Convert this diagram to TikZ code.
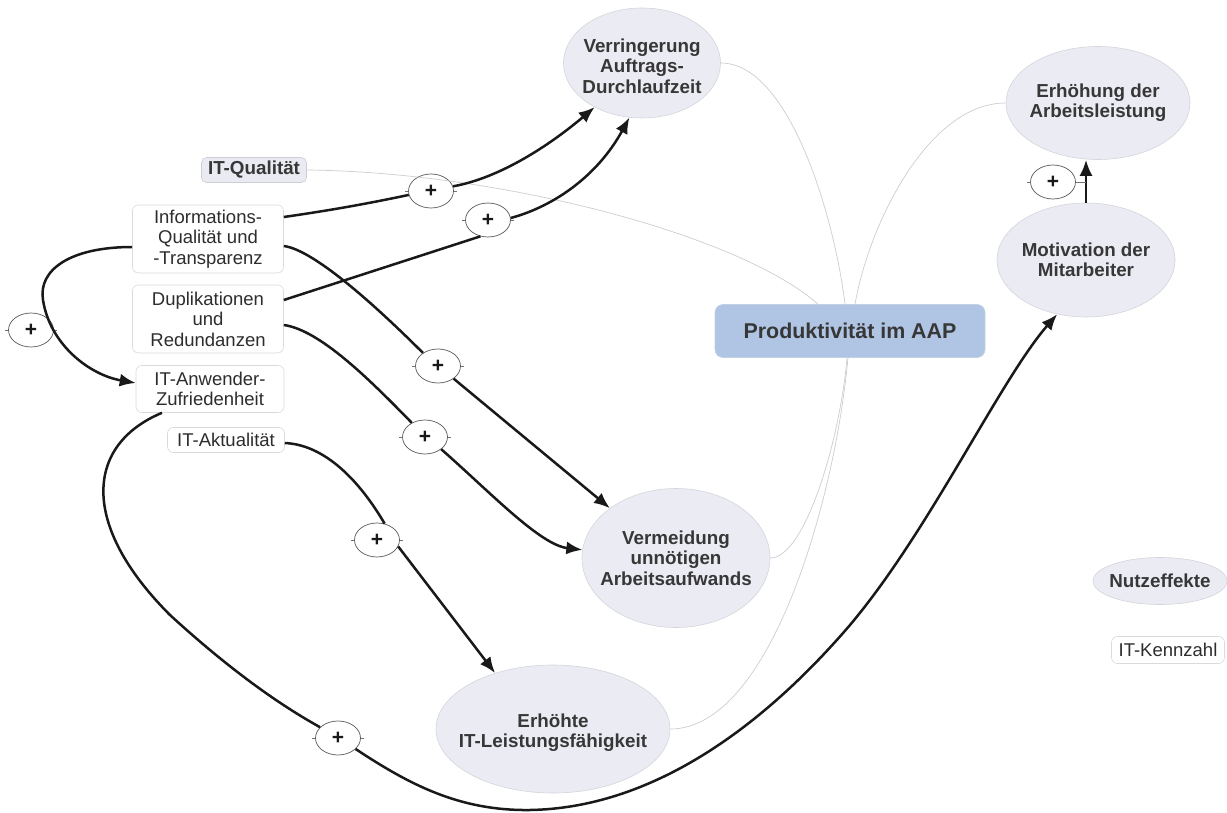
\documentclass[tikz,border=0pt]{standalone}
\usepackage{fontspec}
\setmainfont{Liberation Sans}
\usetikzlibrary{shapes.geometric,arrows.meta}

\definecolor{ellfill}{RGB}{235,236,243}
\definecolor{ellline}{RGB}{212,212,220}
\definecolor{boxline}{RGB}{218,218,222}
\definecolor{txt}{RGB}{45,45,45}
\definecolor{btxt}{RGB}{55,55,55}
\definecolor{prodfill}{RGB}{176,197,227}
\definecolor{prodline}{RGB}{192,208,230}
\definecolor{qualfill}{RGB}{233,234,242}
\definecolor{qualline}{RGB}{205,205,214}
\definecolor{thinline}{RGB}{205,205,205}
\definecolor{ink}{RGB}{25,25,25}

\begin{document}
\begin{tikzpicture}[x=1pt,y=-1pt,
  every node/.style={text=txt, font=\fontsize{18.5}{20.5}\selectfont},
  goal/.style={ellipse, draw=ellline, fill=ellfill, line width=0.6pt, inner sep=0pt},
  gtext/.style={align=center, text=btxt, font=\bfseries\fontsize{18.8}{20.3}\selectfont},
  kbox/.style={rectangle, rounded corners=6pt, draw=boxline, fill=white, line width=0.6pt,
    inner sep=0pt, align=center},
  plus/.style={ellipse, draw=black!65, fill=white, line width=0.7pt, inner sep=0pt,
    minimum width=45pt, minimum height=34pt, text=ink, font=\bfseries\fontsize{21}{22}\selectfont},
  tick/.style={draw=black!55, line width=0.6pt},
  seg/.style={draw=ink, line width=2.5pt},
  conn/.style={draw=ink, line width=2.5pt, -{Latex[length=16pt,width=13pt]}},
  soft/.style={draw=thinline, line width=0.7pt},
]
\useasboundingbox (0,0) rectangle (1227,813);

% central target
\node[rectangle, rounded corners=8pt, draw=prodline, fill=prodfill, line width=0.6pt,
  minimum width=270pt, minimum height=53pt, inner sep=0pt, text=btxt,
  font=\bfseries\fontsize{21.4}{24}\selectfont] (prod) at (850,331) {Produktivität im AAP};

% benefit ellipses
\node[goal, minimum width=157pt, minimum height=110pt,
  label={[gtext, yshift=-3pt]center:{Verringerung\\Auftrags-\\Durchlaufzeit}}] (verr) at (642,63) {};
\node[goal, minimum width=184pt, minimum height=113pt,
  label={[gtext]center:{Erhöhung der\\Arbeitsleistung}}] (erh) at (1098,103) {};
\node[goal, minimum width=178pt, minimum height=114pt,
  label={[gtext]center:{Motivation der\\Mitarbeiter}}] (mot) at (1086,260) {};
\node[goal, minimum width=188pt, minimum height=139pt,
  label={[gtext]center:{Vermeidung\\unnötigen\\Arbeitsaufwands}}] (verm) at (676,558) {};
\node[goal, minimum width=234pt, minimum height=128pt,
  label={[gtext, yshift=-4pt]center:{Erhöhte\\IT-Leistungsfähigkeit}}] (erhte) at (553,729) {};
\node[goal, minimum width=134pt, minimum height=47pt,
  label={[gtext]center:{Nutzeffekte}}] (nutz) at (1160,581) {};

% IT key figures
\node[rectangle, rounded corners=5pt, draw=qualline, fill=qualfill, line width=0.6pt,
  minimum width=105pt, minimum height=25pt, inner sep=0pt, text=btxt,
  font=\bfseries\fontsize{18.8}{20.3}\selectfont] (qual) at (254,170) {IT-Qualität};
\node[kbox, minimum width=151pt, minimum height=68pt] (info) at (208,239)
  {Informations-\\Qualität und\\-Transparenz};
\node[kbox, minimum width=151pt, minimum height=68pt] (dup) at (208,319)
  {Duplikationen\\und\\Redundanzen};
\node[kbox, minimum width=148pt, minimum height=47pt] (ita) at (210,389)
  {IT-Anwender-\\Zufriedenheit};
\node[kbox, minimum width=117pt, minimum height=25pt] (itakt) at (226,440) {IT-Aktualität};
\node[kbox, minimum width=113pt, minimum height=27pt] (kenn) at (1168,650) {IT-Kennzahl};

% positive influence markers
\node[plus] (p1) at (431,191) {+};
\node[plus] (p2) at (488,220) {+};
\node[plus] (p3) at (438,366) {+};
\node[plus] (p4) at (425,437) {+};
\node[plus] (p5) at (31,330) {+};
\node[plus] (p6) at (377,540) {+};
\node[plus] (p7) at (338,738) {+};
\node[plus] (p8) at (1053,182) {+};
\foreach \p in {p1,p2,p3,p4,p5,p6,p7,p8} {
  \draw[tick] (\p.west) -- ++(-3,0);
  \draw[tick] (\p.east) -- ++(3,0);
}

% thin links into the central target
\draw[soft] (verr.east) .. controls (790,63) and (835,220) .. ([xshift=-5pt]prod.north);
\draw[soft] (erh.west) .. controls (930,103) and (870,220) .. ([xshift=5pt]prod.north);
\draw[soft] (qual.east) .. controls (500,172) and (740,235) .. ([xshift=-32pt]prod.north);
\draw[soft] (verm.east) .. controls (805,558) and (840,440) .. ([xshift=-3pt]prod.south);
\draw[soft] (erhte.east) .. controls (770,729) and (835,500) .. ([xshift=-2pt]prod.south);

% causal influences
\draw[seg] ([yshift=22pt]info.east) .. controls (340,209) and (380,201) .. (p1.190);
\draw[conn] (p1.12) .. controls (500,178) and (550,145) .. (verr.223);

\draw[seg] ([yshift=19pt]dup.east) -- (p2.245);
\draw[conn] (p2.5) .. controls (555,206) and (598,175) .. (verr.257);

\draw[seg] ([yshift=-7pt]info.east) .. controls (315,250) and (380,310) .. (p3.139);
\draw[conn] (p3.321) -- (verm.143);

\draw[seg] ([yshift=-6pt]dup.east) .. controls (320,330) and (370,380) .. (p4.133);
\draw[conn] (p4.323) .. controls (490,492) and (540,545) .. (verm.175);

\draw[conn] ([yshift=-8pt]info.west) .. controls (70,247) and (38,270) .. (43,300)
  .. controls (50,345) and (90,375) .. ([yshift=6pt]ita.west);

\draw[seg] ([yshift=-3pt]itakt.east) .. controls (330,445) and (365,490) .. (p6.65);
\draw[conn] (p6.343) -- (erhte.136);

\draw[seg] ([xshift=-48pt]ita.south) .. controls (85,445) and (80,525) .. (170,615)
  .. controls (230,670) and (280,705) .. (p7.149);
\draw[conn] (p7.328) .. controls (410,785) and (460,811) .. (530,810)
  .. controls (650,808) and (760,730) .. (850,625)
  .. controls (930,530) and (1000,380) .. (mot.242);

\draw[conn] (mot.north) -- (mot.north |- erh.south);
\draw[tick] (p8.east) -- (p8.east -| mot.north);
\end{tikzpicture}
\end{document}
